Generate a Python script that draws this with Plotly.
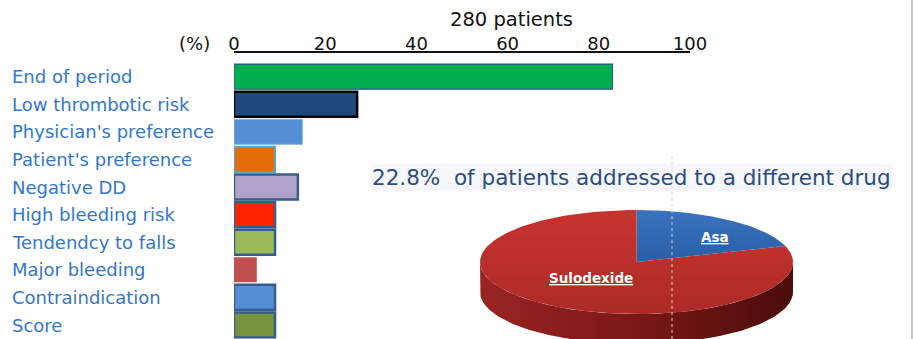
import numpy as np
import plotly.graph_objects as go

W, H = 914, 339


def fx(px):
    """pixel column -> paper x"""
    return px / W


def fy(py):
    """pixel row (from top) -> paper y"""
    return 1 - py / H


# ---- reasons for stopping therapy (% of 280 patients) ----
categories = [
    "End of period",
    "Low thrombotic risk",
    "Physician's preference",
    "Patient's preference",
    "Negative DD",
    "High bleeding risk",
    "Tendendcy to falls",
    "Major bleeding",
    "Contraindication",
    "Score",
]
shares = [83, 27, 15, 9, 14, 9, 9, 5, 9, 9]
x_ticks = [0, 20, 40, 60, 80, 100]

# ---- drug the remaining patients were switched to ----
pie_labels = ["Asa", "Sulodexide"]
pie_values = [20, 80]

# bar styling
bar_fill = ["#00B050", "#1F497D", "#558ED5", "#E46C0A", "#B3A2C7",
            "#FF2200", "#9BBB59", "#C0504D", "#558ED5", "#77933C"]
bar_edge = ["#2F5597", "#000000", "#8DB3E2", "#4BACC6", "#385D8A",
            "#385D8A", "#385D8A", "#C0504D", "#385D8A", "#385D8A"]
edge_w = [1.2, 2.5, 1, 2, 2.5, 2.5, 2.5, 0, 2.5, 2.5]

label_color = "#3477C8"
label_font = dict(family="DejaVu Sans", size=18, color=label_color)
num_font = dict(family="DejaVu Sans", size=18, color="#111111")

fig = go.Figure()

fig.add_trace(go.Bar(
    x=shares, y=categories, orientation="h",
    marker=dict(color=bar_fill, line=dict(color=bar_edge, width=edge_w)),
    xaxis="x", yaxis="y", hoverinfo="skip", showlegend=False,
))

# ---- tilted 3-D pie drawn on a unit-ellipse axis ----
depth = 30 / 52          # height of the rim in ellipse-radius units
top_colors = {
    "Asa": [[0, "#2A5EA6"], [1, "#3A73BF"]],
    "Sulodexide": [[0, "#AC2A27"], [1, "#C83430"]],
}
side_colors = {
    "Asa": [[0, "#24508E"], [1, "#142E55"]],
    "Sulodexide": [[0, "#9A2422"], [0.55, "#761715"], [1, "#4A0C0B"]],
}

total = float(sum(pie_values))
start = 90.0
slices = []
for lab, val in zip(pie_labels, pie_values):
    sweep = 360.0 * val / total
    slices.append((lab, start, start - sweep))
    start -= sweep

# rim (front half of the ellipse, angles between -180 and 0 degrees)
for lab, a0, a1 in slices:
    for shift in (0, -360, 360):
        hi = min(a0 + shift, 0.0)
        lo = max(a1 + shift, -180.0)
        if hi <= lo:
            continue
        t = np.radians(np.linspace(hi, lo, 120))
        xs = np.concatenate([np.cos(t), np.cos(t[::-1])])
        ys = np.concatenate([np.sin(t), np.sin(t[::-1]) - depth])
        fig.add_trace(go.Scatter(
            x=xs, y=ys, mode="lines", fill="toself",
            line=dict(width=0),
            fillgradient=dict(type="horizontal", colorscale=side_colors[lab]),
            xaxis="x2", yaxis="y2", hoverinfo="skip", showlegend=False,
        ))

# top faces
for lab, a0, a1 in slices:
    t = np.radians(np.linspace(a0, a1, 200))
    xs = np.concatenate([[0], np.cos(t), [0]])
    ys = np.concatenate([[0], np.sin(t), [0]])
    fig.add_trace(go.Scatter(
        x=xs, y=ys, mode="lines", fill="toself",
        line=dict(width=0),
        fillgradient=dict(type="vertical", colorscale=top_colors[lab]),
        xaxis="x2", yaxis="y2", hoverinfo="skip", showlegend=False,
    ))

annotations = []

# category labels, left aligned
for cat in categories:
    annotations.append(dict(
        x=fx(10), xref="paper", y=cat, yref="y",
        text=cat, showarrow=False, xanchor="left", yanchor="middle",
        font=label_font,
    ))

annotations += [
    dict(x=fx(194), y=fy(43), xref="paper", yref="paper", text="(%)",
         showarrow=False, xanchor="center", yanchor="middle", font=num_font),
    dict(x=fx(511), y=fy(19), xref="paper", yref="paper", text="280 patients",
         showarrow=False, xanchor="center", yanchor="middle",
         font=dict(family="DejaVu Sans", size=19.5, color="#111111")),
    dict(x=fx(631), y=fy(177), xref="paper", yref="paper",
         text="22.8%\u00a0 of patients addressed to a different drug",
         showarrow=False, xanchor="center", yanchor="middle",
         bgcolor="rgba(238,240,246,0.55)",
         font=dict(family="DejaVu Sans", size=21.5, color="#2B4C80")),
]

# slice labels
label_pos = {"Asa": (0.5, 0.48), "Sulodexide": (-0.29, -0.31)}
for lab in pie_labels:
    px_, py_ = label_pos[lab]
    annotations.append(dict(
        x=px_, y=py_, xref="x2", yref="y2", text="<b>%s</b>" % lab,
        showarrow=False, xanchor="center", yanchor="middle",
        font=dict(family="DejaVu Sans", size=13.5, color="#FFFFFF",
                  lineposition="under"),
    ))

shapes = [
    # faint guide line through the pie
    dict(type="line", xref="paper", yref="paper", x0=fx(672), x1=fx(672),
         y0=fy(339), y1=fy(155), layer="above",
         line=dict(color="#CFCFCF", width=1, dash="dot")),
    # right frame edge
    dict(type="line", xref="paper", yref="paper", x0=fx(912), x1=fx(912),
         y0=0, y1=1, line=dict(color="#B5B5B5", width=1.5)),
]

fig.update_layout(
    width=W, height=H, autosize=False,
    margin=dict(l=0, r=0, t=0, b=0, autoexpand=False),
    paper_bgcolor="white", plot_bgcolor="rgba(0,0,0,0)",
    bargap=0.09,
    showlegend=False,
    xaxis=dict(
        domain=[fx(234), fx(690)], range=[0, 100],
        side="top", anchor="free", position=fy(52),
        tickvals=x_ticks, ticks="", showgrid=False, zeroline=False,
        showline=True, linecolor="#111111", linewidth=2,
        tickfont=num_font, ticklabelstandoff=-6, fixedrange=True,
    ),
    yaxis=dict(
        domain=[fy(338.8), fy(62.8)], type="category",
        categoryorder="array", categoryarray=categories,
        range=[len(categories) - 0.5, -0.5],
        showticklabels=False, ticks="", showgrid=False, zeroline=False,
        showline=False, fixedrange=True,
    ),
    xaxis2=dict(
        domain=[fx(480), fx(793)], range=[-1, 1], anchor="y2",
        visible=False, fixedrange=True,
    ),
    yaxis2=dict(
        domain=[0, fy(210)], range=[1 - 129 / 52, 1], anchor="x2",
        visible=False, fixedrange=True,
    ),
    annotations=annotations,
    shapes=shapes,
)

fig.write_html("out.html", config={"responsive": False, "displayModeBar": False})

# pin the figure to the page's top-left corner
with open("out.html", encoding="utf-8") as fh:
    page = fh.read()
page = page.replace(
    "<head>",
    "<head><style>html,body{margin:0;padding:0;overflow:hidden;}</style>", 1)
with open("out.html", "w", encoding="utf-8") as fh:
    fh.write(page)
